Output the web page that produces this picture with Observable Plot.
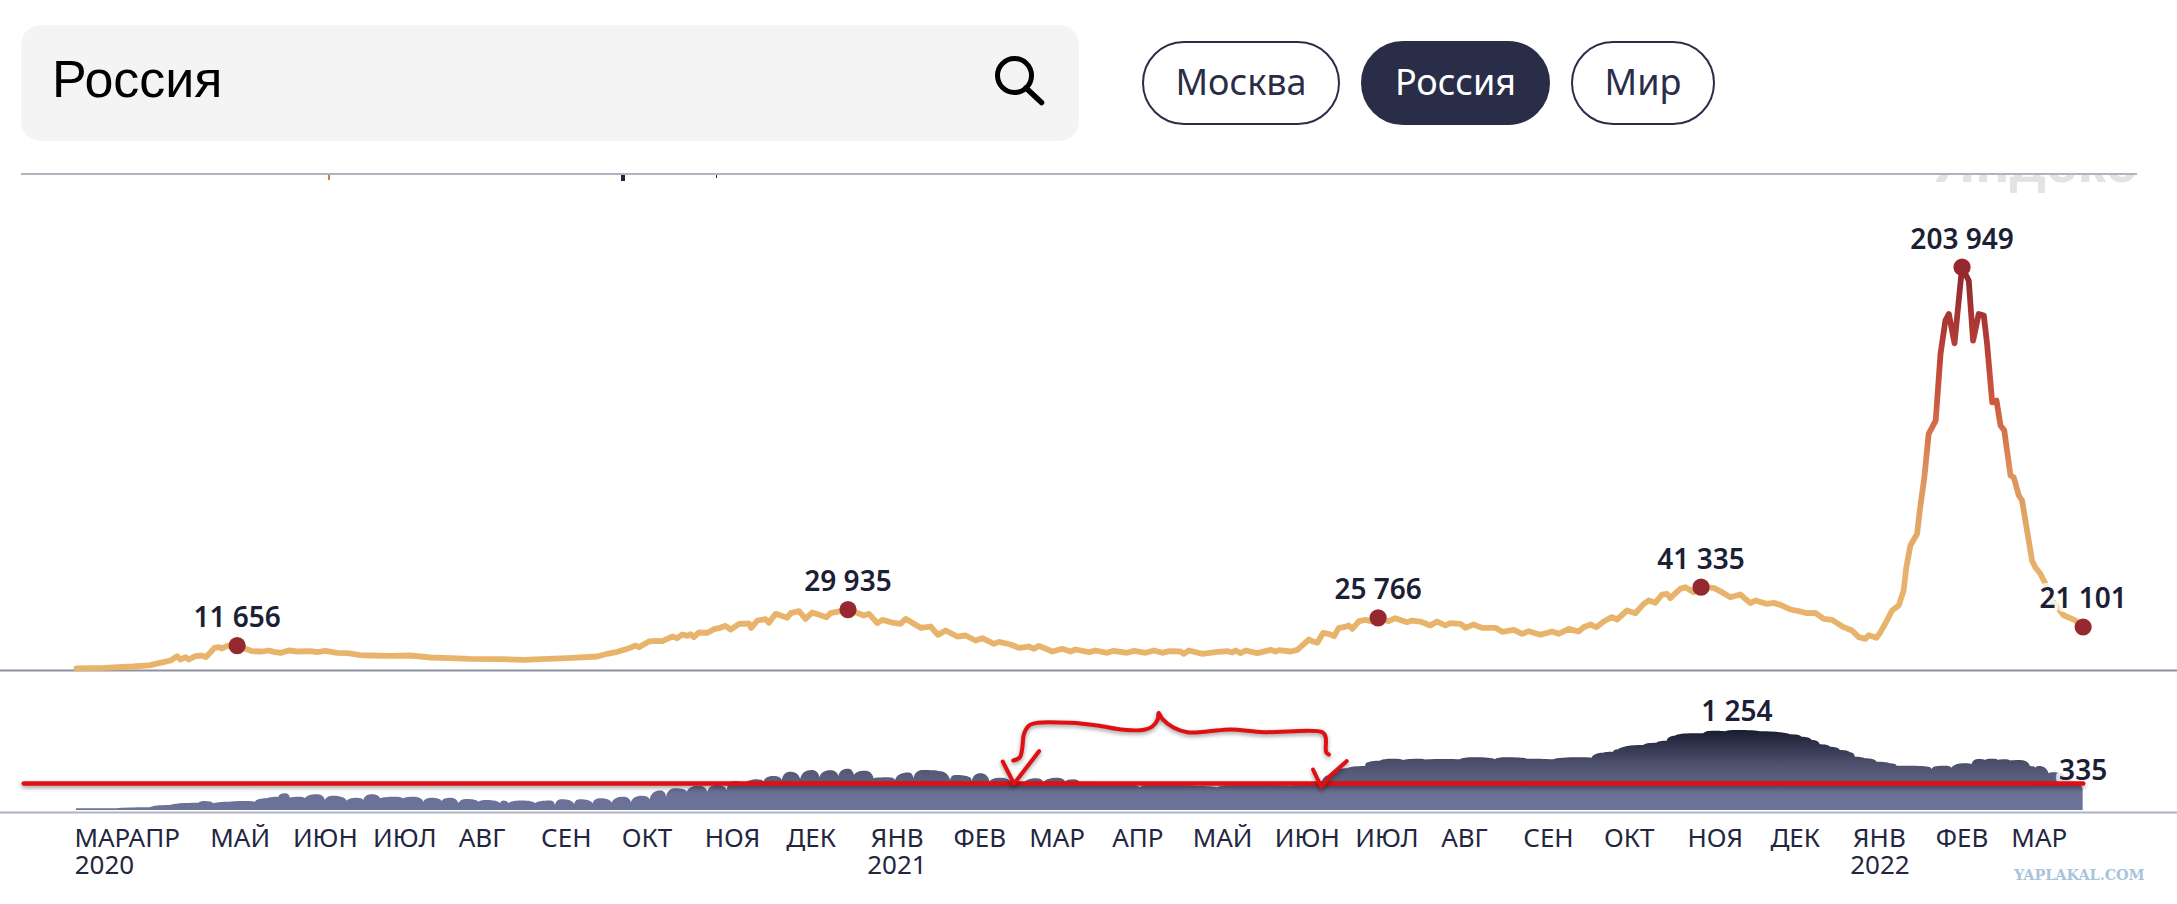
<!DOCTYPE html>
<html lang="ru">
<head>
<meta charset="utf-8">
<title>Россия</title>
<script src="https://cdn.jsdelivr.net/npm/d3@7"></script>
<script src="https://cdn.jsdelivr.net/npm/@observablehq/plot@0.6"></script>
<style>
html,body{margin:0;padding:0;background:#fff;overflow:hidden;width:2177px;height:904px}
#page{position:relative;width:2177px;height:904px}
#head{position:relative;height:174px}
.abs{position:absolute}
#search{left:21px;top:25px;width:1058px;height:116px;background:#f4f4f4;border-radius:20px}
#search span{position:absolute;left:31px;top:22px;font:52px/64px "Liberation Sans",sans-serif;color:#000}
.btn{position:absolute;top:41px;height:84px;box-sizing:border-box;border:2px solid #2a2d47;border-radius:42px;
 font:36px/78px "Noto Sans",sans-serif;text-align:center;color:#2a2d47;background:#fff}
.btn.on{background:#2a2d47;color:#fff}
#rule{left:21px;top:173px;width:2116px;height:2px;background:#b1b3be}
#mark{left:2014px;top:866px;font:bold 14.5px/18px "DejaVu Serif",serif;color:#a9c4d9;letter-spacing:-.1px;white-space:nowrap}
#p1,#p2{display:block}
</style>
</head>
<body>
<div id="page">
  <div id="head">
    <div id="search" class="abs"><span>Россия</span></div>
    <svg class="abs" style="left:985px;top:50px" width="70" height="60" viewBox="0 0 70 60">
      <circle cx="29.5" cy="25.5" r="17" fill="none" stroke="#000" stroke-width="5"/>
      <line x1="41" y1="38" x2="56.5" y2="52.5" stroke="#000" stroke-width="5.5" stroke-linecap="round"/>
    </svg>
    <div class="btn" style="left:1142px;width:198px">Москва</div>
    <div class="btn on" style="left:1361px;width:189px">Россия</div>
    <div class="btn" style="left:1571px;width:144px">Мир</div>
  </div>
  <div id="rule" class="abs"></div>
  <svg class="abs" style="left:1900px;top:175px;z-index:2" width="237" height="18">
    <text x="237" y="7" text-anchor="end" font-family="Liberation Sans" font-weight="700" font-size="57" fill="#e3e3e3">Яндекс</text>
  </svg>
  <div class="abs" style="left:328px;top:175px;width:2px;height:5px;background:#e8704a;z-index:2"></div>
  <div class="abs" style="left:621px;top:175px;width:4px;height:6px;background:#22253c;z-index:2"></div>
  <div class="abs" style="left:716px;top:175px;width:1px;height:3px;background:#22253c;z-index:2"></div>
  <div id="p1"></div>
  <div id="p2"></div>
  <div id="mark" class="abs">YAPLAKAL.COM</div>
</div>
<script>
// Days are counted from the first date of the series.
const firstDay = Date.UTC(2020, 2, 12);

const caseDays = [0,10,21,27.5,31,35,37.4,38.6,40.5,41.7,44.2,46.7,48,49.8,51.3,52.9,54,56,59.7,62.8,65.3,69,71.5,73.3,75.8,78.9,82,87,89.4,92.5,96.9,100.6,105.5,109.3,116.7,124,131.6,139,146.4,157.6,
166.3,172.5,182.4,193.5,197.2,201,204.7,207.8,209,212.7,215.8,217.7,221.4,223.2,225.1,227,228.2,229.4,231.3,234.4,236.9,238.7,241.2,243.1,246.2,249.9,250.7,253,256.1,257.3,259.8,264.1,265.4,268.5,270.9,273.4,278.7,280.2,283.9,286.7,289.5,292.6,294.5,297.6,299.5,303.1,306.2,308.1,311.2,313.7,
317.4,320.1,323,327.3,330.4,334.1,336.6,340.9,342.8,347.1,350.2,353.9,355.8,357.7,362.6,366.3,369.4,371.3,376.2,378.7,383,385.5,390.5,393,397.3,400.4,403.5,406,410.3,411.5,413.4,418.4,424,427.6,429.5,430.7,432.6,434.5,438.8,443.8,445.6,446.9,451.2,453.7,458,459.2,461.1,463.3,465.4,467.3,469.1,471,472.8,474.1,476.6,
479,481.4,483.7,487.6,490.1,494.4,496.3,499.4,503.1,505.6,508.7,510.5,514.3,516.1,519.2,522.3,527.3,529.8,534.1,537.2,539.7,544,548.3,550.8,554.5,558.2,560.1,562.6,564.8,567.5,570.6,572.5,576.2,579.3,582.4,584.2,586.7,589.2,591.1,592.3,594.2,596,597.9,601,603.7,608.4,611.5,614.6,618.3,622,623.9,628.2,630.7,633.2,636.9,
640,643.1,646.2,649.3,652.4,656.7,659.8,662.3,664.8,666,668.9,670.4,672.8,674.7,677.2,679,680,681.5,684,685,686.7,688.3,690.9,692.7,694.5,695.8,697.9,700.7,703.2,704.8,706.9,708.8,710,711.9,713.5,715,716.4,718.7,719.9,721.8,723,726.7,727.9,729.8,731.7,734.2,738.5,742.8,745.7];
const caseValues = [30,340,1020,1700,2880,4070,6270,4580,5760,4580,6270,6610,5760,8300,10500,10840,10160,11517,11656,10000,8800,8640,9150,8470,7960,9150,8640,8810,8300,8980,7960,7790,6780,6610,6440,6610,5590,5250,4910,4740,
4410,4750,5255,6100,7460,8470,9990,11690,10840,13720,14060,13890,16260,15415,17280,16600,17450,15920,18290,18120,19980,20490,21680,19800,22700,22860,20660,24390,25060,23200,27770,25740,28110,29130,25230,28450,26080,28110,29130,29935,28620,26930,27770,23030,24730,23370,22690,25230,22690,20660,
21340,17100,19310,16260,16770,14230,15410,12535,13550,12200,10500,11180,10000,11520,8640,10000,8640,9660,8300,9150,7965,8980,7965,8980,7965,9150,7965,8810,8640,7450,9150,7450,8470,8810,8130,9150,7800,9150,7800,9490,8640,9320,8640,9490,14730,13890,13040,18120,17610,16430,20660,21000,21850,20150,24040,
24720,23880,25766,24050,25570,23540,24390,23880,21850,23880,21850,23030,22700,20660,22360,20660,20660,18630,19650,17620,18970,17110,18800,17620,20150,18800,20970,22360,21000,23880,26080,24900,29470,28100,32850,34550,33360,37600,37930,35730,38270,40470,41320,38780,41335,40980,38780,36240,37600,33200,34550,32850,33360,32350,30000,
29130,28110,28280,25230,24720,21000,19300,15920,15070,16940,15590,18500,24430,29500,32050,39660,51500,62500,68440,80300,97200,119230,125990,159870,176800,180180,165280,203949,197100,166640,180180,179340,164950,135320,136160,123470,120930,98070,97220,87900,85370,54900,51500,48130,43050,34580,26970,24430,21101];

const deathDays = [0,15.1,27.5,34.9,45.5,47.9,51,57.2,63.4,66.5,70.9,75.2,77.7,79.5,83.2,85.1,89.4,92.5,95.6,100.6,104.3,106.8,109.9,113,118.5,121.6,125.4,129.1,132.2,135.9,139,142.1,145.2,149.5,152.6,157.6,
158.8,160.7,165.7,170.6,176.2,178,180.5,185.1,187.3,192,194.8,199.1,203.4,206.2,210.2,213.2,217.1,219.3,222.7,227,231.3,234.6,238.1,241.8,244.9,248.1,253,255.5,259.2,262.3,265.4,269.1,273.4,276.3,280.2,283.3,286.7,289.1,293.2,296.4,301.9,304.4,309.3,311.2,314.7,
320.5,324.8,326.7,331.6,332.9,336,339.5,343.4,347.8,352.1,357,359.5,364.5,367.6,370.7,373.2,375.6,381.2,386.8,395.4,401.6,409.1,416.5,424,431.4,441.3,451.8,456.1,462.6,466,472.3,
479,480.2,484.5,489.5,493.2,499.4,501.3,508.1,514.3,519.8,527.3,531.6,539.1,549,558.8,563.2,567.5,571.2,573.1,582.4,587.3,591.1,594.2,601,604.7,608.4,612.8,617.1,625.8,636.9,
641.2,645,648,651.8,655.5,659.2,661.1,664.8,669.1,674.1,676.6,681.5,687.7,689.5,692,694.5,697,702,704.4,706.9,709.4,711.9,714.4,716.6,718.7,722.4,726.1,728.1,729.4,733,734.8,740,745.7];
const deathValues = [26,26,42,78,115,141,104,130,141,130,183,209,261,193,209,183,245,156,224,146,193,156,245,183,209,183,209,130,193,141,193,104,173,130,156,104,
147,105,147,105,147,79,168,94,168,105,183,115,209,120,225,168,304,209,340,288,382,288,392,314,455,377,481,445,533,471,601,487,627,512,622,533,648,549,617,497,512,471,586,497,627,
612,470,549,522,455,575,444,507,418,418,497,429,507,444,481,418,444,392,408,355,408,392,376,355,392,392,376,418,392,549,653,
690,747,773,805,784,805,790,800,794,826,794,826,805,794,826,820,899,914,951,1019,1055,1087,1165,1202,1202,1243,1233,1254,1233,1186,
1150,1097,1030,993,941,904,836,810,758,732,695,695,680,643,690,695,664,732,716,800,784,805,784,794,774,784,690,664,690,575,591,471,335];

const peakDays = [59.7,286.7,483.7,603.7,700.7,745.7];
const peakValues = [11656,29935,25766,41335,203949,21101];
const deathMarkDays = [617,745.7];
const deathMarkValues = [1254,335];

const monthNames = ["МАР","АПР","МАЙ","ИЮН","ИЮЛ","АВГ","СЕН","ОКТ","НОЯ","ДЕК","ЯНВ","ФЕВ","МАР","АПР","МАЙ","ИЮН","ИЮЛ","АВГ","СЕН","ОКТ","НОЯ","ДЕК","ЯНВ","ФЕВ","МАР"];
const monthDays = [9.6,28.9,60.8,92.5,122,150.7,182,212,243.8,273,305,335.7,364.4,394.4,425.9,457.4,487,515.8,547,577,609,638.7,670,700.7,729.4];
const yearNames = ["2020","2021","2022"];
const yearDays = [10.4,304.9,670.2];

// Colours of the cases line, by level.
const strokeLevels = [0,45000,77000,102000,136000,153000,170000,203949];
const strokeColors = ["#e8b46c","#e8b46c","#e0a564","#dd8f5a","#cb5a3e","#c2493a","#b03a35","#8f282d"];

// Hand-drawn red marks on the deaths panel, in the panel's own units.
const levelDays = [-19.6,745.7];
const levelValues = [423,423];
const braceDays = [348.1,350.6,351.5,352.1,354,357,369.4,379.3,389.2,396.7,399.8,401.9,402.1,403.5,407.8,412.8,420.2,428.9,441.3,463,464.2,464.4,465.4];
const braceValues = [784,836,993,1202,1333,1374,1374,1333,1265,1265,1317,1437,1531,1437,1296,1228,1239,1270,1228,1228,1150,915,878];
const tickADays = [344.2,348.4,357.7];
const tickAValues = [768,418,930];
const tickBDays = [459.5,462.6,466,472];
const tickBValues = [643,366,549,773];

const toDate = d => new Date(firstDay + d * 864e5);
const table = (days, values) => days.map((d, i) => ({date: toDate(d), value: values[i]}));
const spaced = v => d3.format(",")(v).replace(/,/g, " ");

// Curve for the deaths area: sharp valleys, rounded tops.
function scallop(context) {
  let line, point, x0, y0;
  return {
    areaStart() { line = 0; },
    areaEnd() { line = NaN; },
    lineStart() { point = 0; },
    lineEnd() { if (line || (line !== 0 && point === 1)) context.closePath(); line = 1 - line; },
    point(x, y) {
      x = +x; y = +y;
      if (point === 0) {
        point = 1;
        line ? context.lineTo(x, y) : context.moveTo(x, y);
      } else {
        const dx = x - x0, dy = y - y0;
        if (dy < 0) context.bezierCurveTo(x0 + 0.12 * dx, y0 + 0.7 * dy, x0 + 0.5 * dx, y, x, y);
        else context.bezierCurveTo(x0 + 0.5 * dx, y0, x - 0.12 * dx, y0 + 0.3 * dy, x, y);
        point = 2;
      }
      x0 = x; y0 = y;
    }
  };
}

const xScale = {type: "utc", domain: [toDate(-20.44), toDate(765.9)], range: [21, 2137]};
const inkFont = {fontFamily: "'Noto Sans',sans-serif", fontWeight: 600, fontSize: 28, fill: "#1b2035"};
const halo = {stroke: "white", strokeWidth: 8, strokeOpacity: 0.82, paintOrder: "stroke"};

const cases = table(caseDays, caseValues);
const peaks = table(peakDays, peakValues);

// Vertical gradient in the panel's own coordinates, placed through the y scale.
const lineGradient = (index, {y}) => {
  const svg = d3.create("svg:g");
  const g = svg.append("defs").append("linearGradient").attr("id", "caseStroke")
    .attr("gradientUnits", "userSpaceOnUse").attr("x1", 0).attr("x2", 0).attr("y1", y(0)).attr("y2", y(203949));
  strokeLevels.forEach((v, i) => g.append("stop").attr("offset", v / 203949).attr("stop-color", strokeColors[i]));
  return svg.node();
};

const p1 = Plot.plot({
  width: 2177, height: 506,
  marginTop: 0, marginBottom: 0, marginLeft: 0, marginRight: 0,
  x: {...xScale, axis: null},
  y: {domain: [0, 203949], range: [494, 92.7], axis: null},
  marks: [
    lineGradient,
    Plot.ruleY([0], {dy: 2, stroke: "#8d91a0", strokeWidth: 2}),
    Plot.line(cases, {x: "date", y: "value", stroke: "url(#caseStroke)", strokeWidth: 5.8}),
    Plot.dot(peaks, {x: "date", y: "value", r: 8.6, fill: "#95292f", stroke: "none"}),
    Plot.text(peaks, {x: "date", y: "value", text: d => spaced(d.value), dy: -27.5, ...inkFont, ...halo})
  ]
});
document.getElementById("p1").append(p1);

const deaths = table(deathDays, deathValues);
const deathMarks = table(deathMarkDays, deathMarkValues);
const months = table(monthDays, monthNames);
const years = table(yearDays, yearNames);
const redStyle = {x: "date", y: "value", stroke: "#e00f12", curve: "catmull-rom", imageFilter: "drop-shadow(0 2px 2px rgba(0,0,0,.4))"};
const tickFont = {fontFamily: "'Noto Sans',sans-serif", fontSize: 26, fill: "#23263f", lineAnchor: "middle", frameAnchor: "top"};

const gradient = () => {
  const svg = d3.create("svg:g");
  const g = svg.append("defs").append("linearGradient").attr("id", "deathFill").attr("x1", 0).attr("x2", 0).attr("y1", 0).attr("y2", 1);
  [[0, "#1a1c30"], [0.2, "#33354f"], [0.45, "#50536f"], [0.65, "#5f6383"], [0.8, "#6a7096"], [1, "#6c7398"]]
    .forEach(([o, c]) => g.append("stop").attr("offset", o).attr("stop-color", c));
  return svg.node();
};

const p2 = Plot.plot({
  width: 2177, height: 224,
  marginTop: 0, marginBottom: 0, marginLeft: 0, marginRight: 0,
  x: {...xScale, axis: null},
  y: {domain: [0, 1254], range: [130, 50], axis: null},
  marks: [
    gradient,
    Plot.areaY(deaths, {x: "date", y: "value", fill: "url(#deathFill)", curve: scallop}),
    Plot.ruleY([0], {dy: 2, stroke: "#b0b2c0", strokeWidth: 2}),
    Plot.text(deathMarks, {x: "date", y: "value", text: d => spaced(d.value), dy: -18, ...inkFont, ...halo}),
    Plot.line(table(levelDays, levelValues), {...redStyle, curve: "linear", strokeWidth: 4.6}),
    Plot.line(table(braceDays, braceValues), {...redStyle, strokeWidth: 4}),
    Plot.line(table(tickADays, tickAValues), {...redStyle, curve: "linear", strokeWidth: 4}),
    Plot.line(table(tickBDays, tickBValues), {...redStyle, curve: "linear", strokeWidth: 4}),
    Plot.text(months, {x: "date", dy: 158, text: "value", ...tickFont}),
    Plot.text(years, {x: "date", dy: 185, text: "value", ...tickFont})
  ]
});
document.getElementById("p2").append(p2);
</script>
</body>
</html>
